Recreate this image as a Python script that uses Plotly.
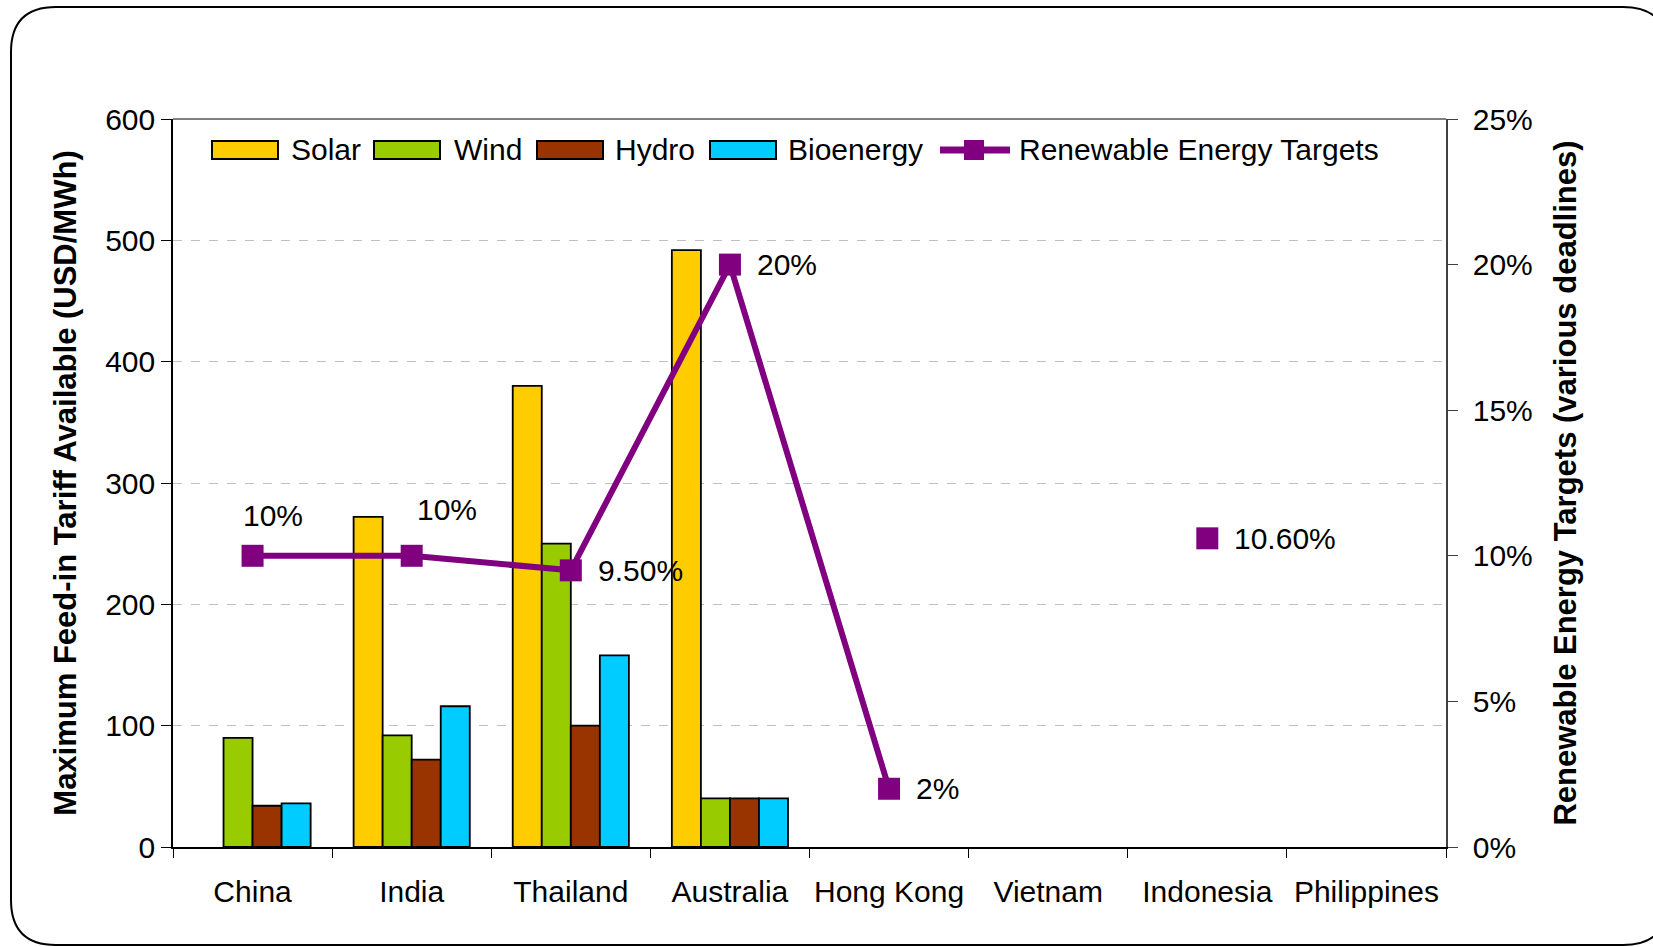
import plotly.graph_objects as go
from plotly.subplots import make_subplots

countries = ["China", "India", "Thailand", "Australia", "Hong Kong", "Vietnam", "Indonesia", "Philippines"]
solar = [None, 272, 380, 492, None, None, None, None]
wind = [90, 92, 250, 40, None, None, None, None]
hydro = [34, 72, 100, 40, None, None, None, None]
bioenergy = [36, 116, 158, 40, None, None, None, None]
targets = [10, 10, 9.5, 20, 2, None, 10.6, None]
target_labels = ["10%", "10%", "9.50%", "20%", "2%", None, "10.60%", None]

left_ticks = [0, 100, 200, 300, 400, 500, 600]
right_ticks = [0, 5, 10, 15, 20, 25]
right_tick_text = ["0%", "5%", "10%", "15%", "20%", "25%"]

W, H = 1653, 947
L, R, T, B = 173, 1446, 119, 847
FONT = "Liberation Sans, Arial, sans-serif"
LINE_COL = "#800080"

fig = make_subplots(specs=[[{"secondary_y": True}]])

bar_specs = [("Solar", solar, "#FFCC00"), ("Wind", wind, "#99CC00"),
             ("Hydro", hydro, "#993300"), ("Bioenergy", bioenergy, "#00CCFF")]
for name, vals, col in bar_specs:
    fig.add_trace(go.Bar(x=countries, y=vals, name=name, marker_color=col,
                         marker_line_color="black", marker_line_width=1.8,
                         showlegend=False),
                  secondary_y=False)

line_name = "Renewable Energy Targets"
fig.add_trace(go.Scatter(x=countries, y=targets, name=line_name,
                         mode="lines+markers", connectgaps=False,
                         line=dict(color=LINE_COL, width=6),
                         marker=dict(symbol="square", size=22, color=LINE_COL),
                         showlegend=False),
              secondary_y=True)

# data labels
offsets = {0: ("center", 20, 40), 1: ("center", 35, 46)}
for i, (c, v, lab) in enumerate(zip(countries, targets, target_labels)):
    if lab is None:
        continue
    anchor, xs, ys = offsets.get(i, ("left", 25, 0))
    fig.add_annotation(x=c, y=v, xref="x", yref="y2", text=lab, showarrow=False,
                       xanchor=anchor, yanchor="middle", xshift=xs, yshift=ys,
                       font=dict(size=30, color="black", family=FONT))

def px(xp):
    return (xp - L) / (R - L)

def py(yp):
    return (B - yp) / (B - T)

# manual legend (wide rectangle swatches like the original)
swatch_x = [212, 374, 537, 710]
text_x = [289, 452, 613, 786]
sw_w, sy0, sy1, ly = 66, 141, 159, 150
for (name, _, col), sx, tx in zip(bar_specs, swatch_x, text_x):
    fig.add_shape(type="rect", xref="paper", yref="paper",
                  x0=px(sx), x1=px(sx + sw_w), y0=py(sy1), y1=py(sy0),
                  fillcolor=col, line=dict(color="black", width=2))
    fig.add_annotation(xref="paper", yref="paper", x=px(tx), y=py(ly), text=name,
                       showarrow=False, xanchor="left", yanchor="middle",
                       font=dict(size=30, family=FONT, color="black"))
fig.add_shape(type="line", xref="paper", yref="paper", x0=px(940), x1=px(1010),
              y0=py(ly), y1=py(ly), line=dict(color=LINE_COL, width=7))
fig.add_shape(type="rect", xref="paper", yref="paper", x0=px(964), x1=px(984),
              y0=py(ly + 10), y1=py(ly - 10), fillcolor=LINE_COL,
              line=dict(color=LINE_COL, width=0))
fig.add_annotation(xref="paper", yref="paper", x=px(1017), y=py(ly), text=line_name,
                   showarrow=False, xanchor="left", yanchor="middle",
                   font=dict(size=30, family=FONT, color="black"))

# rounded outer frame
x0, y0, x1, y1, r = 11, 7, 1668, 945, 45
path = (f"M {px(x0+r)} {py(y0)} L {px(x1-r)} {py(y0)} Q {px(x1)} {py(y0)} {px(x1)} {py(y0+r)} "
        f"L {px(x1)} {py(y1-r)} Q {px(x1)} {py(y1)} {px(x1-r)} {py(y1)} "
        f"L {px(x0+r)} {py(y1)} Q {px(x0)} {py(y1)} {px(x0)} {py(y1-r)} "
        f"L {px(x0)} {py(y0+r)} Q {px(x0)} {py(y0)} {px(x0+r)} {py(y0)} Z")
fig.add_shape(type="path", path=path, xref="paper", yref="paper",
              line=dict(color="black", width=2), layer="below")
# top plot border
fig.add_shape(type="line", xref="paper", yref="paper", x0=0, x1=1, y0=1, y1=1,
              line=dict(color="#808080", width=2))

fig.update_layout(
    width=W, height=H,
    margin=dict(l=L, r=W - R, t=T, b=H - B, autoexpand=False),
    paper_bgcolor="white", plot_bgcolor="white",
    barmode="group", bargap=0.27, bargroupgap=0,
    font=dict(family=FONT, size=30, color="black"),
    showlegend=False,
)

fig.update_xaxes(type="category", categoryorder="array", categoryarray=countries,
                 domain=[0, 1], tickangle=0,
                 showline=True, linecolor="black", linewidth=1.5,
                 ticks="outside", tickson="boundaries", ticklen=9, tickcolor="black",
                 ticklabelstandoff=17, showgrid=False,
                 tickfont=dict(size=30, family=FONT))

fig.update_yaxes(range=[0, 600], tickvals=left_ticks, showline=True, linecolor="black",
                 linewidth=1.5, ticks="outside", ticklen=10, tickcolor="black",
                 showgrid=True, gridcolor="#C0C0C0", griddash="dash", gridwidth=1,
                 zeroline=False, tickfont=dict(size=30, family=FONT),
                 title=dict(text="<b>Maximum Feed-in Tariff Available (USD/MWh)</b>",
                            font=dict(size=31, family=FONT), standoff=19),
                 secondary_y=False)

fig.update_yaxes(range=[0, 25], tickvals=right_ticks, ticktext=right_tick_text,
                 showline=True, linecolor="#404040", linewidth=1.5, ticks="outside",
                 ticklen=10, tickcolor="#404040", showgrid=False, zeroline=False,
                 ticklabelstandoff=9,
                 tickfont=dict(size=30, family=FONT),
                 title=dict(text="<b>Renewable Energy Targets (various deadlines)</b>",
                            font=dict(size=31, family=FONT), standoff=23),
                 secondary_y=True)

fig.write_html("out.html")
